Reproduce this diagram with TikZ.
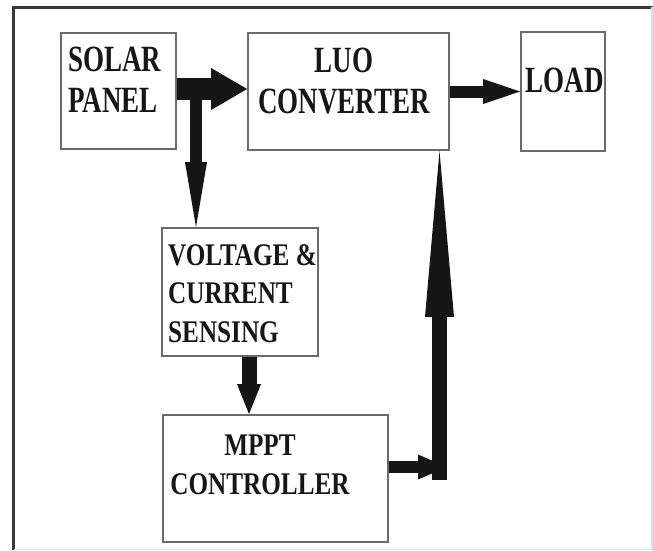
\documentclass[tikz,border=0pt]{standalone}
\usepackage{fontspec}
\newfontfamily\topfont{Liberation Serif}[FakeStretch=0.73]
\newfontfamily\lowfont{Liberation Serif}[FakeStretch=0.8]
\usetikzlibrary{arrows.meta}
\definecolor{boxline}{HTML}{6B6B6B}
\definecolor{ink}{HTML}{161616}
\definecolor{frameline}{HTML}{3A3A3A}

\begin{document}
\begin{tikzpicture}[x=1pt,y=-1pt,
  box/.style={draw=boxline,line width=1.8pt,inner sep=0pt},
  toptxt/.style={font=\topfont\bfseries\fontsize{37}{41}\selectfont,text=ink,inner sep=0pt},
  lowtxt/.style={font=\lowfont\bfseries\fontsize{31.5}{38.5}\selectfont,text=ink,inner sep=0pt},
  fat/.style n args={3}{draw=ink,line width=#1,-{Triangle[length=#2,width=#3,line width=0pt 0 0]}}]
\useasboundingbox (0,0) rectangle (653,550);
\draw[line width=3pt,frameline] (13.5,550) -- (13.5,7) -- (653,7);
\draw[line width=1.5pt,gray!25] (652,7) -- (652,549.5) -- (13.5,549.5);
\node[box,minimum width=115pt,minimum height=116pt] (solar) at (118.5,91) {};
\node[box,minimum width=201pt,minimum height=117pt] (luo) at (348.5,91.5) {};
\node[box,minimum width=84pt,minimum height=119pt] (load) at (563,91.5) {};
\node[box,minimum width=156pt,minimum height=128pt] (sense) at (240,292) {};
\node[box,minimum width=225pt,minimum height=127pt] (mppt) at (275.5,478.5) {};
\node[toptxt,anchor=west,align=left] (solar-t) at (68,79.5) {SOLAR\\PANEL};
\node[toptxt,align=center] (luo-t) at (344,81.5) {LUO\\CONVERTER};
\node[toptxt] (load-t) at (564.5,80.5) {LOAD};
\node[lowtxt,anchor=west,align=left] (sense-t) at (168,293.5) {VOLTAGE \&\\CURRENT\\SENSING};
\node[lowtxt,align=center] (mppt-t) at (260,465) {MPPT\\CONTROLLER};
\coordinate (s1) at ([yshift=2pt]solar.east);
\coordinate (tap) at (196,89);
\coordinate (s2) at ([xshift=9pt]sense.south);
\coordinate (foot) at (439.5,480);
\coordinate (fb) at (447,467);
\draw[fat={12pt}{65pt}{22pt}] (tap) -- (tap |- sense.north);
\draw[fat={22pt}{36pt}{42pt}] (s1) -- (s1 -| luo.west);
\draw[fat={12pt}{37pt}{25pt}] (luo.east) -- (load.west);
\draw[fat={15pt}{30pt}{24pt}] (s2) -- (s2 |- mppt.north);
\draw[fat={15pt}{166pt}{29pt}] (foot) -- (foot |- luo.south);
\draw[fat={11.5pt}{29pt}{25pt}] (fb -| mppt.east) -- (fb);
\end{tikzpicture}
\end{document}
